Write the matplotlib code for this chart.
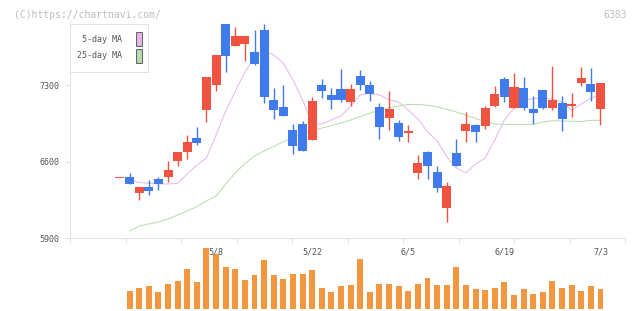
import numpy as np
import matplotlib
matplotlib.use("Agg")
import matplotlib.pyplot as plt
from matplotlib.patches import Rectangle

# Data: daily candles for 6383 (index 0 = first day shown)
opens = [6446, 6455, 6315, 6364, 6440, 6458, 6607, 6690, 6815, 7071,
         7300, 7858, 7660, 7678, 7605, 7803, 7163, 7099, 6888, 6943,
         6800, 7300, 7208, 7263, 7147, 7382, 7300, 7099, 7001, 6952,
         6864, 6498, 6687, 6504, 6177, 6678, 6882, 6934, 6928, 7111,
         7355, 7092, 7272, 7080, 7254, 7092, 7135, 7111, 7321, 7309, 7083]
highs = [6446, 6495, 6364, 6431, 6458, 6607, 6690, 6845, 6916, 7373,
         7574, 7858, 7831, 7748, 7803, 7858, 7272, 7300, 6943, 6971,
         7190, 7355, 7272, 7446, 7309, 7437, 7339, 7135, 7245, 6980,
         6934, 6660, 6696, 6562, 6415, 6806, 7053, 6943, 7108, 7291,
         7373, 7410, 7373, 7199, 7254, 7474, 7199, 7227, 7465, 7455, 7318]
lows = [6446, 6397, 6248, 6294, 6342, 6415, 6562, 6626, 6754, 6964,
        7245, 7422, 7660, 7520, 7483, 7138, 6992, 7019, 6671, 6699,
        6800, 7184, 7083, 7147, 7111, 7257, 7156, 6809, 6891, 6790,
        6781, 6443, 6443, 6324, 6049, 6562, 6781, 6781, 6900, 7101,
        7147, 7092, 7074, 6946, 7083, 7074, 6882, 7010, 7294, 7156, 6937]
closes = [6446, 6397, 6364, 6333, 6397, 6522, 6690, 6778, 6769, 7373,
          7574, 7565, 7748, 7748, 7495, 7193, 7074, 7019, 6745, 6699,
          7154, 7248, 7166, 7166, 7263, 7303, 7220, 6918, 7080, 6827,
          6879, 6586, 6562, 6360, 6376, 6562, 6943, 6873, 7090, 7218,
          7193, 7282, 7092, 7047, 7092, 7163, 6992, 7126, 7364, 7239, 7318]
ma5 = [np.nan, 6431, 6408, 6401, 6397, 6394, 6401, 6486, 6568, 6632,
       6843, 7062, 7245, 7419, 7556, 7611, 7575, 7501, 7346, 7163,
       6943, 6943, 6980, 7016, 7108, 7209, 7224, 7209, 7167, 7144,
       7071, 6989, 6870, 6788, 6644, 6541, 6495, 6577, 6632, 6797,
       6980, 7090, 7154, 7176, 7178, 7172, 7144, 7071, 7126, 7181, 7209]
ma25 = [np.nan, 5964, 6010, 6028, 6046, 6074, 6110, 6147, 6188, 6239,
        6284, 6394, 6495, 6582, 6650, 6696, 6737, 6783, 6821, 6852,
        6879, 6907, 6929, 6952, 6980, 7011, 7041, 7071, 7090, 7108,
        7122, 7123, 7115, 7099, 7078, 7053, 7026, 6993, 6966, 6943,
        6940, 6940, 6940, 6940, 6961, 6973, 6971, 6968, 6966, 6977, 6977]
volumes = [0, 18000, 21000, 23000, 17000, 25000, 28000, 40000, 27000, 61000,
           55000, 42000, 40000, 29000, 34000, 49000, 34000, 30000, 35000, 35000,
           39000, 21000, 17000, 23000, 24000, 50000, 17000, 25000, 25000, 23000,
           18000, 25000, 31000, 24000, 24000, 42000, 24000, 20000, 19000, 21000,
           27000, 14000, 20000, 15000, 17000, 28000, 21000, 24000, 18000, 23000, 20000]
date_labels = ['5/8', '5/22', '6/5', '6/19', '7/3']
date_idx = [10, 20, 30, 40, 50]
price_ticks = [5900, 6600, 7300]

up_color = '#f05440'
down_color = '#3f7bea'
vol_color = '#f29640'
ma5_color = '#e8b4ec'
ma25_color = '#b6dcab'
grid_color = '#e2e2e2'
text_color = '#555555'
mono = 'DejaVu Sans Mono'

W, H = 640, 311
def fx(px):
    return px / W
def fy(py):
    return 1 - py / H

fig = plt.figure(figsize=(6.4, 3.11), dpi=100)
ax = fig.add_axes([fx(70), fy(238), fx(625) - fx(70), fy(20) - fy(238)])
axv = fig.add_axes([fx(70), fy(309), fx(625) - fx(70), fy(243) - fy(309)])

idx = np.arange(len(closes))
o = np.array(opens)
c = np.array(closes)
colors = [up_color if cc >= oo else down_color for oo, cc in zip(o, c)]

# moving averages (under the candles)
ax.plot(idx, ma5, color=ma5_color, lw=0.7, zorder=1)
ax.plot(idx, ma25, color=ma25_color, lw=0.7, zorder=1)

# candles
ax.vlines(idx, lows, highs, colors=colors, lw=1.0, zorder=2)
body_low = np.minimum(o, c)
body_h = np.maximum(np.abs(c - o), 12)
ax.bar(idx, body_h, bottom=body_low, width=0.94, color=colors, lw=0, zorder=3)

xmin, xmax = -5.2, 52.55
ax.set_xlim(xmin, xmax)
ax.set_ylim(5900, 7895)
ax.set_yticks(price_ticks)
ax.set_yticklabels([str(p) for p in price_ticks], fontsize=6, family=mono, color=text_color)
ax.set_xticks(np.linspace(xmin, xmax, 11))
ax.set_xticklabels([])
ax.tick_params(axis='both', length=3.6, width=0.75, color=grid_color, pad=4)
for s in ['top', 'right']:
    ax.spines[s].set_visible(False)
for s in ['left', 'bottom']:
    ax.spines[s].set_color(grid_color)
    ax.spines[s].set_linewidth(0.75)

# volume
axv.bar(idx, volumes, width=0.62, color=vol_color, lw=0)
axv.set_xlim(xmin, xmax)
axv.set_ylim(0, 66000)
axv.axis('off')
for i, lab in zip(date_idx, date_labels):
    axv.text(i, 57000, lab, fontsize=6, family=mono, color=text_color,
             ha='center', va='center', zorder=5)

# legend box
fig.add_artist(Rectangle((fx(70), fy(72)), fx(148) - fx(70), fy(24) - fy(72),
                         transform=fig.transFigure, facecolor='white',
                         edgecolor=grid_color, lw=0.75))
for ty, lab, col in [(39, '5-day MA', ma5_color), (56, '25-day MA', ma25_color)]:
    fig.text(fx(122), fy(ty), lab, fontsize=6, family=mono, color=text_color,
             ha='right', va='center')
    fig.add_artist(Rectangle((fx(136), fy(ty + 7)), fx(142) - fx(136), fy(ty - 7) - fy(ty + 7),
                             transform=fig.transFigure, facecolor=col,
                             edgecolor='#666666', lw=0.75))

fig.text(fx(14), fy(15), '(C)https://chartnavi.com/', fontsize=7, family=mono,
         color='#bdbdbd', ha='left', va='center')
fig.text(fx(627), fy(15), '6383', fontsize=7, family=mono,
         color='#bdbdbd', ha='right', va='center')

fig.savefig('out.png', dpi=100)
